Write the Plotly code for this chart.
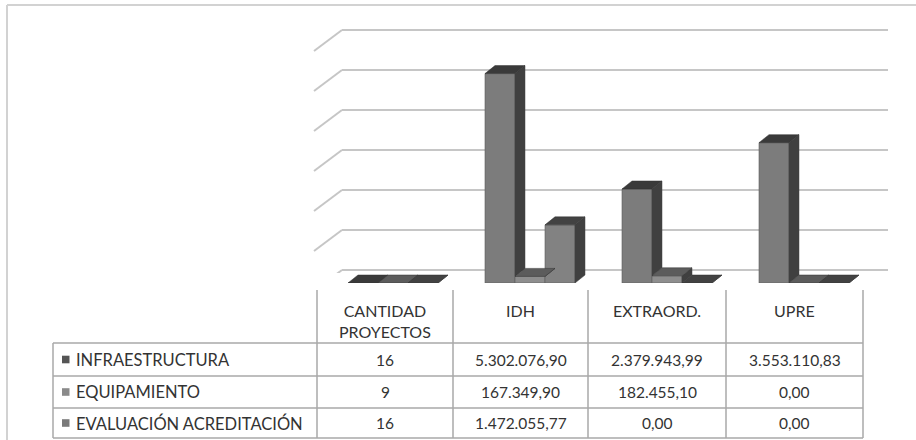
import plotly.graph_objects as go

# ---------------- data ----------------
categories = ["CANTIDAD<br>PROYECTOS", "IDH", "EXTRAORD.", "UPRE"]
series_names = ["INFRAESTRUCTURA", "EQUIPAMIENTO", "EVALUACIÓN ACREDITACIÓN"]
infraestructura = [16, 5302076.90, 2379943.99, 3553110.83]
equipamiento = [9, 167349.90, 182455.10, 0.00]
evaluacion = [16, 1472055.77, 0.00, 0.00]
grid_ticks = [0, 1e6, 2e6, 3e6, 4e6, 5e6, 6e6]

series_values = [infraestructura, equipamiento, evaluacion]

# ---------------- styles ----------------
W, H = 916, 440
FONT = "Lato"
TXT = "#333333"
front_cols = ["#7c7c7c", "#8e8e8e", "#828282"]
top_cols = ["#3a3a3a", "#5c5c5c", "#424242"]
side_col = "#404040"
legend_cols = ["#555555", "#8a8a8a", "#7a7a7a"]
grid_col = "#c6c6c6"
table_col = "#a8a8a8"


def pxx(p):
    return p / W


def pxy(p):
    return 1 - p / H


# bar axis geometry (pixels)
bar_left, bar_right = 324.5, 872.5
bar_base, bar_top = 283.0, 29.5
val_px = 39.5 / 1e6
ymax_bars = (bar_base - bar_top) / val_px
cat_px = (bar_right - bar_left) / 4.0
bw = 30.0 / cat_px
depth_dx = 10 / cat_px
depth_dy = 8 / val_px

# grid axis geometry (pixels)
grid_left, grid_right = 342, 888
grid_floor, grid_topline = 270, 30
grid_px = (grid_floor - grid_topline) / 6e6
grid_top_px = grid_topline - 3
grid_ymax = (grid_floor - grid_top_px) / grid_px

fig = go.Figure()

# invisible trace for grid subplot
fig.add_trace(go.Scatter(x=[0.5], y=[0], mode="markers", marker=dict(opacity=0),
                         hoverinfo="skip", showlegend=False, xaxis="x", yaxis="y"))

xs = list(range(len(categories)))
offsets = [-1.5 * bw, -0.5 * bw, 0.5 * bw]
for i, (name, vals) in enumerate(zip(series_names, series_values)):
    fig.add_trace(go.Bar(
        x=xs, y=vals, name=name, width=bw, offset=offsets[i],
        marker=dict(color=front_cols[i], line=dict(color="#5a5a5a", width=0.6)),
        xaxis="x2", yaxis="y2", showlegend=False, hoverinfo="skip"))

shapes = []
# 3D faces
for j in xs:
    for i in range(3):
        v = series_values[i][j]
        xl = j + offsets[i]
        xr = xl + bw
        vn = series_values[i + 1][j] if i < 2 else 0
        vn = min(vn, v)
        side = (f"M{xr},{vn} L{xr},{v} L{xr+depth_dx},{v+depth_dy} "
                f"L{xr+depth_dx},{vn+depth_dy} Z")
        shapes.append(dict(type="path", path=side, xref="x2", yref="y2",
                           fillcolor=side_col, line=dict(color=side_col, width=0.5)))
        top = (f"M{xl},{v} L{xr},{v} L{xr+depth_dx},{v+depth_dy} "
               f"L{xl+depth_dx},{v+depth_dy} Z")
        shapes.append(dict(type="path", path=top, xref="x2", yref="y2",
                           fillcolor=top_cols[i], line=dict(color="#333333", width=0.5)))

# diagonal parts of the gridlines (perspective)
for v in grid_ticks:
    shapes.append(dict(type="line", xref="paper", yref="y", ysizemode="pixel",
                       yanchor=v, x0=pxx(grid_left), x1=pxx(314), y0=0, y1=-21,
                       line=dict(color=grid_col, width=2), layer="below"))

# outer border
shapes.append(dict(type="line", xref="paper", yref="paper", x0=pxx(7), x1=1,
                   y0=pxy(5), y1=pxy(5), line=dict(color="#d2d2d2", width=2)))
shapes.append(dict(type="line", xref="paper", yref="paper", x0=pxx(7), x1=pxx(7),
                   y0=pxy(5), y1=0, line=dict(color="#d2d2d2", width=2)))

# table grid
col_edges = [317, 453, 588, 726, 863]
row_edges = [343, 376, 408, 438]
label_left = 53
header_top = 290
for x in col_edges:
    shapes.append(dict(type="line", xref="paper", yref="paper", x0=pxx(x), x1=pxx(x),
                       y0=pxy(header_top), y1=pxy(row_edges[-1]),
                       line=dict(color=table_col, width=1.5)))
shapes.append(dict(type="line", xref="paper", yref="paper", x0=pxx(label_left), x1=pxx(label_left),
                   y0=pxy(row_edges[0]), y1=pxy(row_edges[-1]),
                   line=dict(color=table_col, width=1.5)))
for y in row_edges:
    shapes.append(dict(type="line", xref="paper", yref="paper", x0=pxx(label_left), x1=pxx(col_edges[-1]),
                       y0=pxy(y), y1=pxy(y), line=dict(color=table_col, width=1.5)))

annotations = []


def fmt(v, j):
    if j == 0:
        return f"{int(v)}"
    s = f"{v:,.2f}"
    return s.replace(",", "X").replace(".", ",").replace("X", ".")


for j, cat in enumerate(categories):
    cx = (col_edges[j] + col_edges[j + 1]) / 2
    annotations.append(dict(text=cat, x=pxx(cx), y=pxy(299), xref="paper", yref="paper",
                            xanchor="center", yanchor="top", showarrow=False,
                            font=dict(family=FONT, size=16, color=TXT)))

for i, name in enumerate(series_names):
    cy = (row_edges[i] + row_edges[i + 1]) / 2
    shapes.append(dict(type="rect", xref="paper", yref="paper",
                       x0=pxx(62), x1=pxx(69.5), y0=pxy(cy - 3.8), y1=pxy(cy + 3.8),
                       fillcolor=legend_cols[i], line=dict(width=0)))
    annotations.append(dict(text=name, x=pxx(74), y=pxy(cy), xref="paper", yref="paper",
                            xanchor="left", yanchor="middle", showarrow=False,
                            font=dict(family=FONT, size=16.5, color=TXT)))
    for j in range(len(categories)):
        cx = (col_edges[j] + col_edges[j + 1]) / 2
        annotations.append(dict(text=fmt(series_values[i][j], j), x=pxx(cx), y=pxy(cy),
                                xref="paper", yref="paper", xanchor="center", yanchor="middle",
                                showarrow=False,
                                font=dict(family=FONT, size=15.5, color=TXT)))

fig.update_layout(
    width=W, height=H,
    margin=dict(l=0, r=0, t=0, b=0),
    paper_bgcolor="white", plot_bgcolor="rgba(0,0,0,0)",
    barmode="overlay",
    xaxis=dict(domain=[pxx(grid_left), pxx(grid_right)], range=[0, 1], visible=False, anchor="y"),
    yaxis=dict(domain=[pxy(grid_floor + 3), pxy(grid_top_px)],
               range=[-3 / grid_px, grid_ymax], tickvals=grid_ticks,
               showgrid=True, gridcolor=grid_col, gridwidth=2, zeroline=False,
               showticklabels=False, showline=False, ticks="", anchor="x"),
    xaxis2=dict(domain=[pxx(bar_left), pxx(bar_right)], range=[-0.5, 3.5], visible=False,
                anchor="y2"),
    yaxis2=dict(domain=[pxy(bar_base), pxy(bar_top)], range=[0, ymax_bars], visible=False,
                anchor="x2"),
    shapes=shapes,
    annotations=annotations,
    showlegend=False,
)

fig.write_html(
    "out.html",
    config={"displayModeBar": False, "staticPlot": True},
    post_script="document.body.style.margin='0';document.body.style.overflow='hidden';",
)
